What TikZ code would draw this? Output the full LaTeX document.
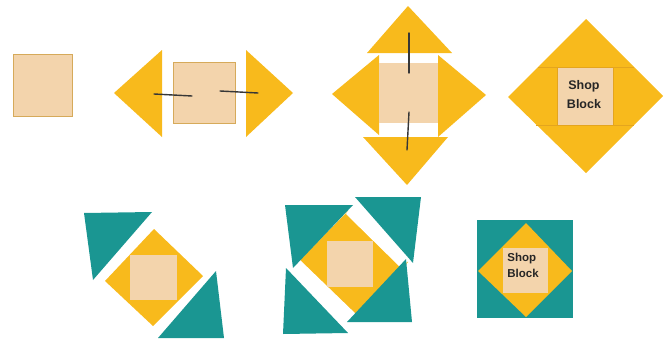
\documentclass[tikz,border=0pt]{standalone}
\usepackage{fontspec}
\setmainfont{Liberation Sans}
\definecolor{gold}{RGB}{248,186,28}
\definecolor{seam}{RGB}{228,165,30}
\definecolor{tanc}{RGB}{243,212,172}
\definecolor{tealc}{RGB}{26,150,146}
\definecolor{edgec}{RGB}{214,170,90}
\definecolor{needlec}{RGB}{55,55,55}
\tikzset{
  gp/.style={fill=gold},
  tp/.style={fill=tealc},
  sqb/.style={fill=tanc, draw=edgec, line width=0.8pt},
  sqn/.style={fill=tanc},
  gapw/.style={fill=white},
  seamline/.style={draw=seam, line width=0.6pt},
  needleline/.style={draw=needlec, line width=1.4pt, line cap=round},
  lbl/.style={font=\bfseries\fontsize{12.5}{19}\selectfont, inner sep=0pt, text=black!85}
}
\begin{document}
\begin{tikzpicture}[x=1pt,y=-1pt]
\useasboundingbox (0,0) rectangle (672,343);

% panel 1
\draw[sqb] (13,54) rectangle (72,116);

% panel 2
\fill[gp] (114,93) -- (162,50) -- (162,137) -- cycle;
\fill[gp] (293,93) -- (246,50) -- (246,137) -- cycle;
\draw[sqb] (173,62) rectangle (235,123);
\draw[needleline] (154,94) -- (192,96);
\draw[needleline] (220,91) -- (258,93);

% panel 3
\fill[gp] (332,94) -- (379,55) -- (379,135) -- cycle;
\fill[gp] (486,95) -- (438,55) -- (438,137) -- cycle;
\fill[gp] (367,53) -- (452,53) -- (408,6) -- cycle;
\fill[gp] (363,137) -- (448,137) -- (407,185) -- cycle;
\fill[sqn] (379,63) rectangle (438,123);
\draw[needleline] (409,33) -- (409,73);
\draw[needleline] (409,112) -- (407,150);

% panel 4
\fill[gp] (586,19) -- (663,96) -- (586,173) -- (508,97) -- cycle;
\draw[seamline] (538,67) -- (634,67);
\draw[seamline] (536,125) -- (634,125);
\draw[sqn, draw=seam, line width=0.6pt] (557,67) rectangle (613,125);
\node[lbl, align=center] (t1) at (584,95) {Shop\\Block};

% panel 5
\fill[gp] (154,229) -- (203,276) -- (153,326) -- (105,281) -- cycle;
\fill[sqn] (130,255) rectangle (177,300);
\fill[tp] (84,213) -- (152,212) -- (93,280) -- cycle;
\fill[tp] (216,271) -- (224,338) -- (158,338) -- cycle;

% panel 6
\fill[gp] (352,207) -- (408,262) -- (350,322) -- (292,268) -- cycle;
\fill[gapw] (346,214) -- (356,199) -- (410,259) -- (401,268) -- cycle;
\fill[gapw] (300,260) -- (358,316) -- (345,331) -- (284,271) -- cycle;
\fill[tp] (285,205) -- (353,205) -- (293,268) -- cycle;
\fill[tp] (355,197) -- (421,197) -- (413,263) -- cycle;
\fill[tp] (286,268) -- (283,334) -- (348,333) -- cycle;
\fill[tp] (406,259) -- (412,322) -- (347,322) -- cycle;
\fill[sqn] (327,241) rectangle (373,287);

% panel 7
\fill[tp] (477,220) rectangle (573,318);
\fill[gp] (526,223) -- (572,271) -- (526,317) -- (478,271) -- cycle;
\fill[sqn] (503,248) rectangle (548,293);
\node[lbl, align=left, font=\bfseries\fontsize{11.5}{16}\selectfont] (t2) at (523,265) {Shop\\Block};
\end{tikzpicture}
\end{document}
